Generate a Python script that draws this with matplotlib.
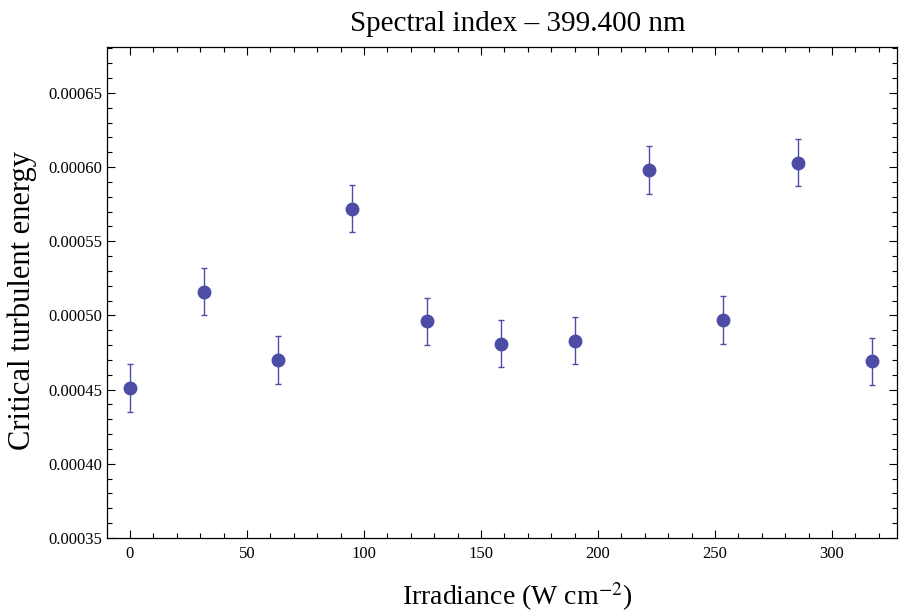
import numpy as np
import matplotlib
matplotlib.use("Agg")
import matplotlib.pyplot as plt
from matplotlib.ticker import MultipleLocator, FormatStrFormatter

# data
irradiance = [0, 31.7, 63.4, 95.1, 126.8, 158.5, 190.2, 221.9, 253.6, 285.3, 317.0]
energy = [0.000451, 0.000516, 0.000470, 0.000572, 0.000496, 0.000481,
          0.000483, 0.000598, 0.000497, 0.000603, 0.000469]
err = [0.000016, 0.000016, 0.000016, 0.000016, 0.000016, 0.000016,
       0.000016, 0.000016, 0.000016, 0.000016, 0.000016]

plt.rcParams['font.family'] = ['Liberation Serif', 'DejaVu Serif']
plt.rcParams['mathtext.fontset'] = 'stix'

col = '#4d4da6'
W, H = 899, 615

fig = plt.figure(figsize=(W/100, H/100), dpi=100)
ax = fig.add_axes([107/W, 1 - 538/H, (897-107)/W, (538-47)/H])

ax.errorbar(irradiance, energy, yerr=err, fmt='o', color=col, ms=9,
            elinewidth=1.0, capsize=2.3, capthick=1.0)

ax.set_xlim(-9.8, 327.8)
ax.set_ylim(0.00035, 0.000681)

ax.xaxis.set_major_locator(MultipleLocator(50))
ax.xaxis.set_minor_locator(MultipleLocator(10))
ax.yaxis.set_major_locator(MultipleLocator(0.00005))
ax.yaxis.set_minor_locator(MultipleLocator(0.00001))
ax.yaxis.set_major_formatter(FormatStrFormatter('%.5f'))

ax.tick_params(which='both', direction='in', top=True, right=True, labelsize=12, width=0.8)
ax.tick_params(which='major', length=6)
ax.tick_params(which='minor', length=3.5)
ax.tick_params(axis='x', pad=6)
for s in ax.spines.values():
    s.set_linewidth(0.9)

# title and axis labels placed like the reference (not centred on the axes)
fig.text(518/W, 1 - 31/H, 'Spectral index – 399.400 nm', fontsize=21,
         ha='center', va='baseline')
fig.text(517/W, 1 - 605/H, 'Irradiance (W cm$^{-2}$)', fontsize=20,
         ha='center', va='baseline')
fig.text(22/W, 1 - 300/H, 'Critical turbulent energy', fontsize=22,
         ha='center', va='center', rotation=90)

fig.savefig('out.png', dpi=100)
